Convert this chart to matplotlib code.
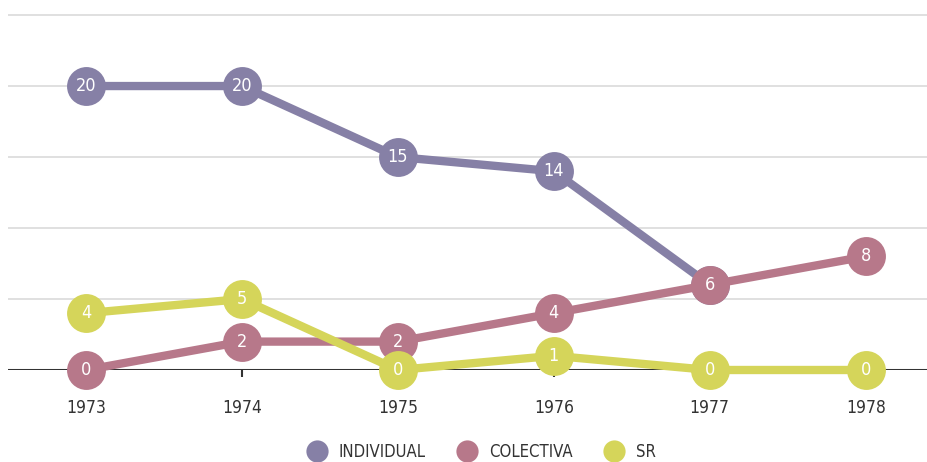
import numpy as np
import matplotlib
matplotlib.use("Agg")
import matplotlib.pyplot as plt
from matplotlib.lines import Line2D

plt.rcParams['font.family'] = ['Liberation Sans Narrow', 'DejaVu Sans']
plt.rcParams['font.stretch'] = 'condensed'

years = [1973, 1974, 1975, 1976, 1977, 1978]
individual = [20, 20, 15, 14, 6, np.nan]
colectiva = [0, 2, 2, 4, 6, 8]
sr = [4, 5, 0, 1, 0, 0]

series = [
    ("INDIVIDUAL", individual, "#8680a6"),
    ("COLECTIVA", colectiva, "#b7788a"),
    ("SR", sr, "#d5d55a"),
]

fig = plt.figure(figsize=(9.28, 4.62), dpi=100)
ax = fig.add_axes([8 / 928, 92 / 462, 920 / 928, 370 / 462])
ax.set_xlim(1972.5, 1978.4)
ax.set_ylim(0, 26.06)

# grid
for gy in [5, 10, 15, 20, 25]:
    ax.axhline(gy, color="#dadada", lw=1.2, zorder=0)
ax.axhline(0, color="#333333", lw=2.2, zorder=1)

for i, (name, vals, col) in enumerate(series):
    z = 3 + i * 2
    ax.plot(years, vals, color=col, lw=6, marker="o", markersize=28,
            markeredgewidth=0, solid_capstyle="butt", clip_on=False, zorder=z)
    for x, v in zip(years, vals):
        if np.isnan(v):
            continue
        ax.text(x, v, "%d" % v, color="white", fontsize=13, ha="center",
                va="center", zorder=z + 1, clip_on=False)

for s in ax.spines.values():
    s.set_visible(False)
ax.set_yticks([])
ax.set_xticks(years)
ax.set_xticklabels([str(y) for y in years], fontsize=12.5, color="#333333")
ax.tick_params(axis="x", length=5, width=1.5, color="#333333", pad=16)

handles = [Line2D([], [], color=col, marker="o", linestyle="none",
                  markersize=16, markeredgewidth=0) for _, _, col in series]
fig.legend(handles, [n for n, _, _ in series], loc="center",
           bbox_to_anchor=(478 / 928, 10 / 462), ncol=3,
           frameon=False, fontsize=12, handletextpad=0.3, columnspacing=1.5,
           labelcolor="#333333")

fig.savefig("out.png", dpi=100)
